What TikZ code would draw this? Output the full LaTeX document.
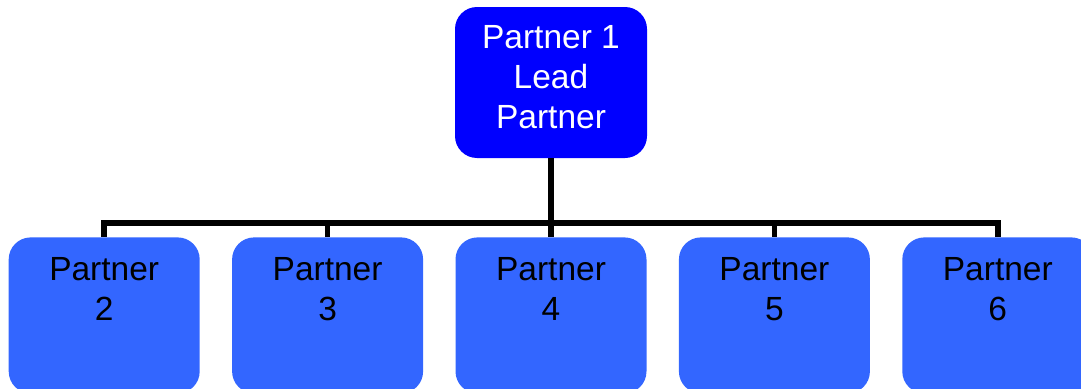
\documentclass[tikz,border=0pt]{standalone}
\usepackage{fontspec}
\setmainfont{Liberation Sans}
\usepackage{tikz}
\usetikzlibrary{positioning}
\definecolor{leadblue}{RGB}{0,0,255}
\definecolor{partnerblue}{RGB}{51,102,255}
\tikzstyle{leadbox} = [rectangle, rounded corners=22pt, minimum width=192pt, minimum height=151pt, inner sep=0pt, align=center, fill=leadblue, text=white, font=\fontsize{33.5}{40}\selectfont]
\tikzstyle{partnerbox} = [rectangle, rounded corners=22pt, minimum width=191pt, minimum height=156pt, inner sep=0pt, align=center, fill=partnerblue, text=black, font=\fontsize{33.5}{40}\selectfont]
\tikzstyle{conn} = [line width=5.5pt, line join=miter, draw=black]

\begin{document}
\begin{tikzpicture}[node distance=32pt]
                \useasboundingbox (0,0) rectangle (1081pt,-388pt);
                \node (lead) [leadbox] at (551pt,-82.5pt) {Partner 1\\Lead\\Partner\strut};
                \node (p4) [partnerbox, below=79pt of lead] {Partner\\4\\\strut};
                \node (p3) [partnerbox, left=of p4] {Partner\\3\\\strut};
                \node (p2) [partnerbox, left=of p3] {Partner\\2\\\strut};
                \node (p5) [partnerbox, right=of p4] {Partner\\5\\\strut};
                \node (p6) [partnerbox, right=of p5] {Partner\\6\\\strut};

                % bus under the lead partner
                \draw [conn] (lead.south) -- ++(0,-64.7pt) coordinate (hub);
                \draw [conn] (hub) -| (p2.north);
                \draw [conn] (hub) -| (p3.north);
                \draw [conn] (hub) -- (p4.north);
                \draw [conn] (hub) -| (p5.north);
                \draw [conn] (hub) -| (p6.north);
            \end{tikzpicture}
\end{document}
